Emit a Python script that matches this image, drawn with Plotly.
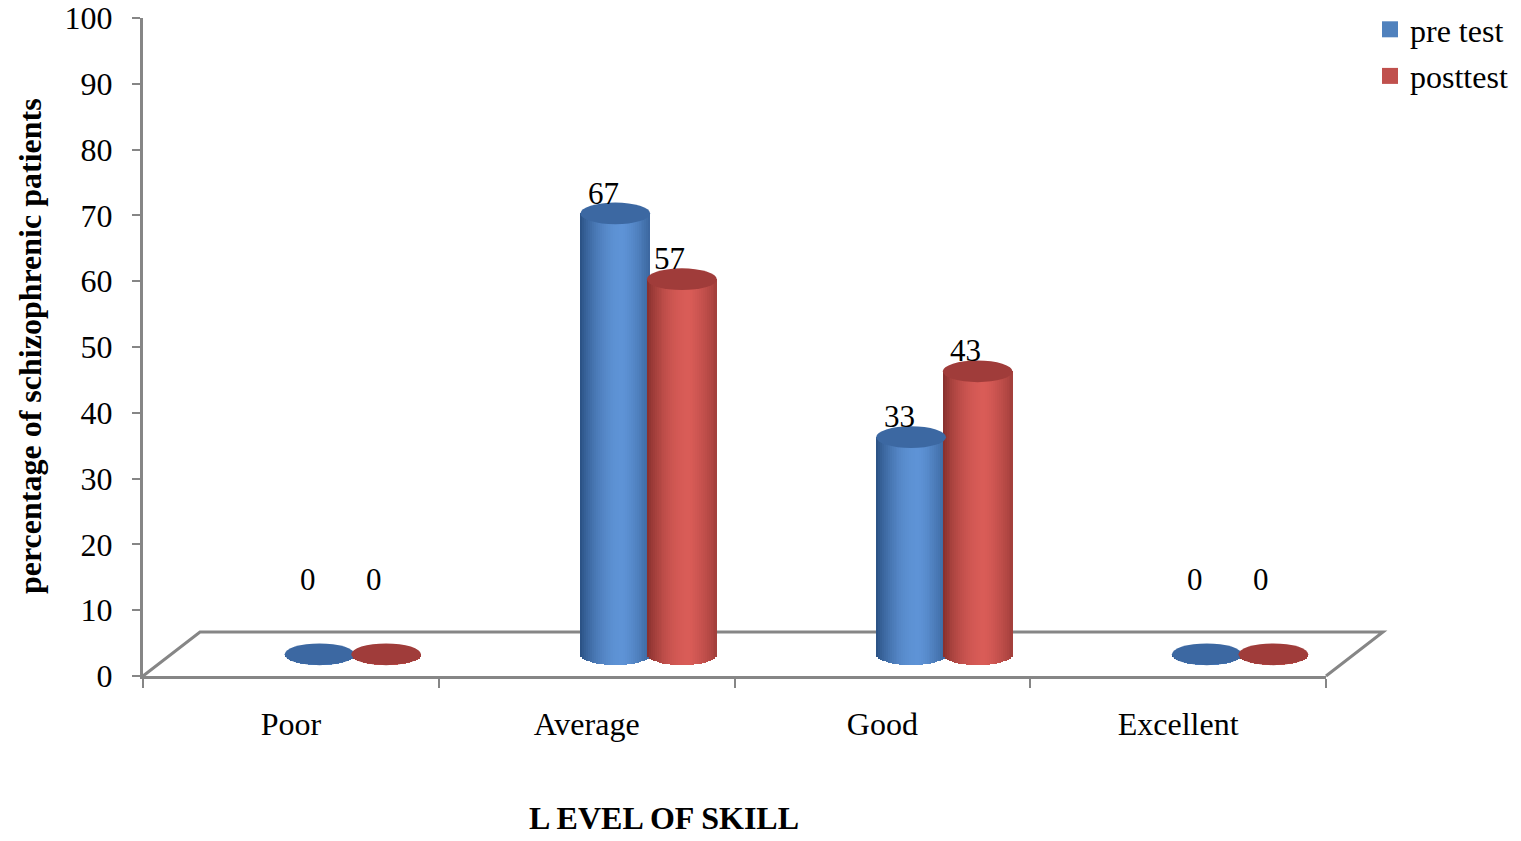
import math
import plotly.graph_objects as go

# ---- data ----
categories = ["Poor", "Average", "Good", "Excellent"]
pre_test = [0, 67, 33, 0]
post_test = [0, 57, 43, 0]
series_names = ["pre test", "posttest"]
y_ticks = [0, 10, 20, 30, 40, 50, 60, 70, 80, 90, 100]

# ---- styling / geometry ----
FONT = "Liberation Serif"
AXIS_GREY = "#868686"
LEGEND_COLORS = ["#4f81bd", "#c0504d"]
# (dark edge, highlight) colour pairs for the cylinder shading
SHADES = [((40, 78, 128), (94, 147, 214)), ((132, 46, 44), (217, 92, 87))]
CAP_COLORS = ["rgb(60,104,162)", "rgb(160,60,58)"]
FLOOR = 3.3        # depth of the floor where the cylinders stand (y units)
CAP = 1.65         # half-height of the elliptical caps (y units)
BAR_W = 0.236      # cylinder width in category units
OFFSETS = [0.097, 0.322]
N_SLICES = 36

L, R, T, B = 143, 195, 18, 165
W_PX, H_PX = 1521, 841
plot_w = W_PX - L - R
plot_h = H_PX - T - B


def shade(t, dark, light):
    # brightness profile across a cylinder: dark left rim, highlight ~60%, dim right rim
    if t < 0.6:
        f = math.sin(t / 0.6 * math.pi / 2) ** 0.8
    else:
        f = 1 - 0.65 * ((t - 0.6) / 0.4) ** 1.4
    c = [round(d + f * (li - d)) for d, li in zip(dark, light)]
    return f"rgb({c[0]},{c[1]},{c[2]})"


fig = go.Figure()
shapes = []
annotations = []

for s, values in enumerate([pre_test, post_test]):
    dark, light = SHADES[s]
    off = OFFSETS[s]
    dw = BAR_W / N_SLICES
    for k in range(N_SLICES):
        t = (k + 0.5) / N_SLICES
        u = 2 * t - 1
        dip = CAP * math.sqrt(max(0.0, 1 - u * u))
        fig.add_trace(go.Bar(
            x=categories,
            y=[v + dip for v in values],
            base=[FLOOR - dip] * len(values),
            offset=off - BAR_W / 2 + k * dw,
            width=dw * (1.25 if k < N_SLICES - 1 else 1.0),
            marker=dict(color=shade(t, dark, light), line=dict(width=0)),
            showlegend=False,
            hoverinfo="skip",
        ))
    for i, v in enumerate(values):
        cx = i + off
        shapes.append(dict(
            type="circle", xref="x", yref="y", layer="above",
            x0=cx - BAR_W / 2, x1=cx + BAR_W / 2,
            y0=FLOOR + v - CAP, y1=FLOOR + v + CAP,
            fillcolor=CAP_COLORS[s], line=dict(width=0),
        ))
        annotations.append(dict(
            x=cx, y=FLOOR + v + CAP, xref="x", yref="y",
            text=str(v), showarrow=False, yanchor="bottom",
            xshift=-12, yshift=(44 if v == 0 else -10),
            font=dict(family=FONT, size=31, color="black"),
        ))

# legend entries
for s, name in enumerate(series_names):
    fig.add_trace(go.Scatter(
        x=[None], y=[None], mode="markers", name=name, legendgroup=name,
        marker=dict(symbol="square", size=16, color=LEGEND_COLORS[s]),
    ))

# floor of the 3-D plot area
dx = 57 / plot_w
dy = 44 / plot_h
shapes.append(dict(
    type="path", xref="paper", yref="paper", layer="below",
    path=f"M 0,0 L {dx},{dy} L {1 + dx},{dy} L 1,0",
    line=dict(color=AXIS_GREY, width=3),
))

annotations.append(dict(
    x=(30 - L) / plot_w, y=(H_PX - B - 346) / plot_h, xref="paper", yref="paper",
    text="percentage of schizophrenic patients", textangle=-90, showarrow=False,
    xanchor="center", yanchor="middle",
    font=dict(family=FONT, size=32, color="black", weight="bold"),
))
annotations.append(dict(
    x=(664 - L) / plot_w, y=(H_PX - B - 818) / plot_h, xref="paper", yref="paper",
    text="L EVEL OF SKILL", showarrow=False, xanchor="center", yanchor="middle",
    font=dict(family=FONT, size=32, color="black", weight="bold"),
))

fig.update_layout(
    width=W_PX, height=H_PX,
    margin=dict(l=L, r=R, t=T, b=B, autoexpand=False),
    paper_bgcolor="white", plot_bgcolor="white",
    barmode="overlay", bargap=0,
    font=dict(family=FONT, color="black"),
    shapes=shapes, annotations=annotations,
    legend=dict(
        x=(1370 - L) / plot_w, y=1 + 16 / plot_h, xanchor="left", yanchor="top",
        font=dict(family=FONT, size=32, color="black"),
        bgcolor="rgba(0,0,0,0)", borderwidth=0,
        traceorder="grouped", tracegroupgap=2,
    ),
    xaxis=dict(
        type="category", categoryorder="array", categoryarray=categories,
        range=[-0.5, 3.5], tickson="boundaries", ticks="outside",
        ticklen=9, tickwidth=2, tickcolor=AXIS_GREY,
        showline=True, linecolor=AXIS_GREY, linewidth=3,
        showgrid=False, zeroline=False,
        tickfont=dict(family=FONT, size=32, color="black"),
        ticklabelstandoff=18, fixedrange=True,
    ),
    yaxis=dict(
        range=[0, 100], tickvals=y_ticks, ticks="outside",
        ticklen=8, tickwidth=2, tickcolor=AXIS_GREY,
        showline=True, linecolor=AXIS_GREY, linewidth=3,
        showgrid=False, zeroline=False,
        tickfont=dict(family=FONT, size=32, color="black"),
        ticklabelstandoff=13, fixedrange=True,
    ),
)

fig.write_html("out.html")
